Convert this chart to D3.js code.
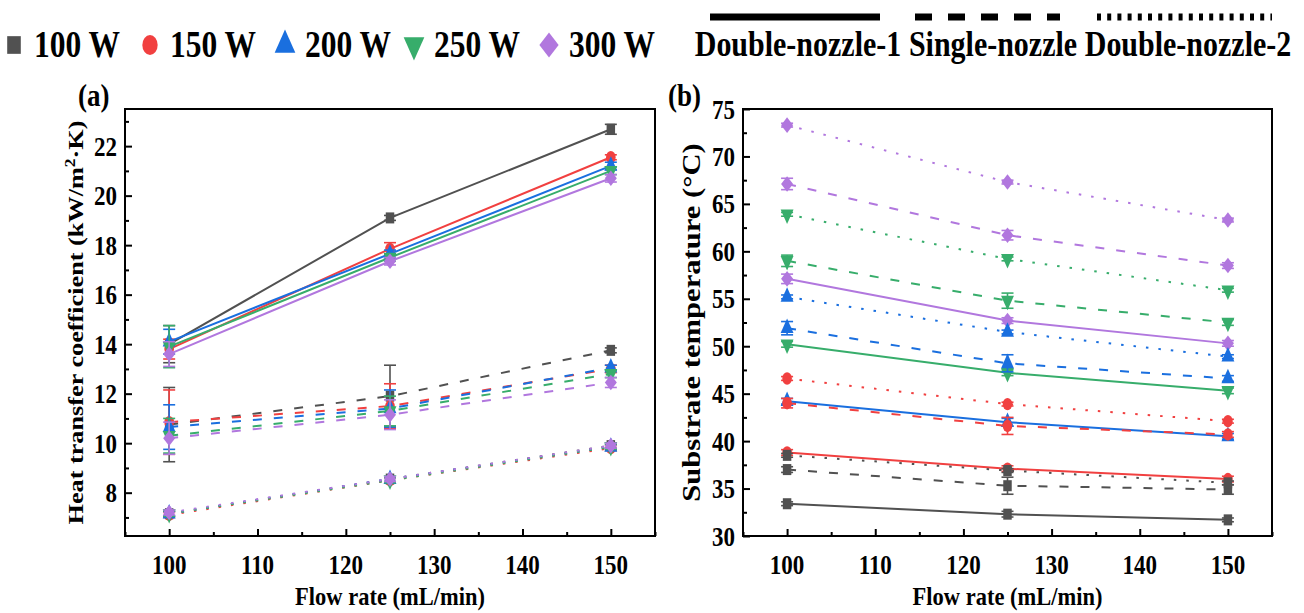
<!DOCTYPE html>
<html>
<head>
<meta charset="utf-8">
<script src="https://cdnjs.cloudflare.com/ajax/libs/d3/7.8.5/d3.min.js"></script>
<style>
  body { margin: 0; background: #fff; }
</style>
</head>
<body>
<div id="chart"></div>
<script>
////////////////////////////////// DATA //////////////////////////////////
var flowRates = [100, 125, 150];
var powers = ["100 W", "150 W", "200 W", "250 W", "300 W"];
var nozzles = ["Double-nozzle-1", "Single-nozzle", "Double-nozzle-2"];
var xTicks = [100, 110, 120, 130, 140, 150];
var htcTicks = [8, 10, 12, 14, 16, 18, 20, 22];
var tempTicks = [30, 35, 40, 45, 50, 55, 60, 65, 70, 75];

// (a) heat transfer coefficient, one row per power
var htcDouble1 = [[14.0, 19.1, 22.68], [13.8, 17.85, 21.55], [14.1, 17.65, 21.2], [13.9, 17.5, 21.0], [13.6, 17.35, 20.7]];
var htcDouble1Err = [[0.75, 0.1, 0.2], [0.4, 0.25, 0.1], [0.5, 0.15, 0.15], [0.85, 0.15, 0.15], [0.5, 0.15, 0.15]];
var htcSingle = [[10.75, 11.9, 13.75], [10.85, 11.5, 13.0], [10.65, 11.4, 13.05], [10.3, 11.3, 12.8], [10.2, 11.15, 12.45]];
var htcSingleErr = [[1.5, 1.25, 0.1], [1.3, 0.9, 0.15], [0.9, 0.75, 0.1], [0.7, 0.6, 0.15], [0.65, 0.6, 0.2]];
var htcDouble2 = [[7.15, 8.55, 9.9], [7.1, 8.5, 9.8], [7.15, 8.55, 9.85], [7.15, 8.5, 9.85], [7.2, 8.55, 9.9]];
var htcDouble2Err = [[0.1, 0.1, 0.1], [0.1, 0.1, 0.1], [0.1, 0.1, 0.1], [0.1, 0.1, 0.1], [0.1, 0.1, 0.1]];

// (b) substrate temperature, one row per power
var tDouble1 = [[33.4, 32.3, 31.7], [38.8, 37.1, 36.0], [44.2, 42.0, 40.5], [50.2, 47.2, 45.3], [57.1, 52.7, 50.3]];
var tDouble1Err = [[0.2, 0.3, 0.2], [0.3, 0.3, 0.3], [0.3, 0.4, 0.3], [0.3, 0.3, 0.3], [0.5, 0.3, 0.3]];
var tSingle = [[37.0, 35.3, 34.9], [44.0, 41.6, 40.7], [51.9, 48.2, 46.6], [59.0, 54.8, 52.5], [67.1, 61.7, 58.5]];
var tSingleErr = [[0.3, 0.9, 0.5], [0.5, 0.9, 0.3], [0.7, 0.9, 0.3], [0.6, 0.8, 0.3], [0.6, 0.5, 0.3]];
var tDouble2 = [[38.5, 36.9, 35.6], [46.6, 43.9, 42.1], [55.2, 51.5, 48.9], [63.9, 59.2, 55.9], [73.3, 67.3, 63.3]];
var tDouble2Err = [[0.2, 0.2, 0.2], [0.2, 0.2, 0.2], [0.2, 0.2, 0.2], [0.2, 0.2, 0.2], [0.2, 0.2, 0.2]];

////////////////////////////////// D3 //////////////////////////////////
var width = 1304;
var height = 613;
var stretch = 1.22;   // the original figure is a bit taller than wide

var color = d3.scaleOrdinal(powers, ["#515151", "#F14040", "#1A6FDF", "#37AD6B", "#B177DE"]);
var dashes = d3.scaleOrdinal(nozzles, ["none", "9,12", "2.5,10"]);

// marker shapes, origin style
function marker(i, s) {
  var gen = d3.symbol().size(s);
  if (i == 0) return gen.type(d3.symbolSquare)();
  if (i == 1) return gen.type(d3.symbolCircle)();
  return gen.type(i == 4 ? d3.symbolSquare : d3.symbolTriangle)();
}
function markerRotate(i) {
  if (i == 3) return " rotate(180)";
  if (i == 4) return " rotate(45)";
  return "";
}

var svg = d3.select('#chart')
  .append('svg')
  .attr('width', width)
  .attr('height', height)
  .attr('font-family', '"Times New Roman", "Liberation Serif", Times, serif')
  .attr('font-weight', 'bold');

// text helper: tall text like the original
function label(sel, x, y, size, k, anchor, rotated) {
  return sel.append('text')
    .attr('transform', 'translate(' + x + ',' + y + ')' + (rotated ? ' rotate(-90) scale(' + k + ',1)' : ' scale(1,' + k + ')'))
    .attr('text-anchor', anchor)
    .attr('font-size', size);
}

function panel(opts) {
  var x = d3.scaleLinear().domain([95, 155]).range([opts.left, opts.right]);
  var y = d3.scaleLinear().domain(opts.yDomain).range([536, 109]);
  var g = svg.append('g');

  // frame
  g.append('rect')
    .attr('x', opts.left).attr('y', 109)
    .attr('width', opts.right - opts.left).attr('height', 536 - 109)
    .attr('fill', 'none').attr('stroke', '#000').attr('stroke-width', 2);

  // x axis, ticks pointing inward
  var xMinor = d3.range(95, 156, 5).filter(function(v) { return v % 10 != 0; });
  g.append('g')
    .attr('transform', 'translate(0,536)')
    .call(d3.axisTop(x).tickValues(xTicks).tickSize(7).tickFormat(''))
    .call(function(a) { a.select('.domain').remove(); a.selectAll('line').attr('stroke-width', 2); });
  g.append('g')
    .attr('transform', 'translate(0,536)')
    .call(d3.axisTop(x).tickValues(xMinor).tickSize(4).tickFormat(''))
    .call(function(a) { a.select('.domain').remove(); a.selectAll('line').attr('stroke-width', 2); });
  xTicks.forEach(function(d) {
    label(g, x(d), 574, 23, stretch, 'middle').text(d);
  });

  // y axis
  var yt = opts.yTicks;
  var step = yt[1] - yt[0];
  var yMinor = [];
  for (var v = yt[0] - step / 2; v <= opts.yDomain[1]; v += step) {
    if (v >= opts.yDomain[0] && yt.indexOf(v) < 0) yMinor.push(v);
  }
  g.append('g')
    .attr('transform', 'translate(' + opts.left + ',0)')
    .call(d3.axisRight(y).tickValues(yt).tickSize(7).tickFormat(''))
    .call(function(a) { a.select('.domain').remove(); a.selectAll('line').attr('stroke-width', 2); });
  g.append('g')
    .attr('transform', 'translate(' + opts.left + ',0)')
    .call(d3.axisRight(y).tickValues(yMinor).tickSize(4).tickFormat(''))
    .call(function(a) { a.select('.domain').remove(); a.selectAll('line').attr('stroke-width', 2); });
  yt.forEach(function(d) {
    label(g, opts.left - 8, y(d) + 9.5, 23, stretch, 'end').text(d);
  });

  // titles
  label(g, (opts.left + opts.right) / 2, 605, 22.5, 1.15, 'middle').text('Flow rate (mL/min)');
  label(g, opts.titleX, (109 + 536) / 2, opts.titleSize, 1.25, 'middle', true).html(opts.title);
  label(g, opts.tagX, 106, 27, 1.15, 'start').text(opts.tag);

  // series
  var line = d3.line()
    .x(function(d, i) { return x(flowRates[i]); })
    .y(function(d) { return y(d); });

  opts.series.forEach(function(s, k) {
    s.values.forEach(function(row, i) {
      var c = color(powers[i]);
      g.append('path')
        .attr('d', line(row))
        .attr('fill', 'none')
        .attr('stroke', c)
        .attr('stroke-width', 2)
        .attr('stroke-dasharray', dashes(nozzles[k]));
      var pts = g.selectAll(null)
        .data(row.map(function(v, j) { return { v: v, e: s.errors[i][j], f: flowRates[j] }; }))
        .enter()
        .append('g')
        .attr('stroke', c)
        .attr('stroke-width', 1.6);
      pts.append('line')
        .attr('x1', function(d) { return x(d.f); }).attr('x2', function(d) { return x(d.f); })
        .attr('y1', function(d) { return y(d.v - d.e); }).attr('y2', function(d) { return y(d.v + d.e); });
      pts.append('line')
        .attr('x1', function(d) { return x(d.f) - 6; }).attr('x2', function(d) { return x(d.f) + 6; })
        .attr('y1', function(d) { return y(d.v + d.e); }).attr('y2', function(d) { return y(d.v + d.e); });
      pts.append('line')
        .attr('x1', function(d) { return x(d.f) - 6; }).attr('x2', function(d) { return x(d.f) + 6; })
        .attr('y1', function(d) { return y(d.v - d.e); }).attr('y2', function(d) { return y(d.v - d.e); });
      pts.append('path')
        .attr('d', marker(i, 72))
        .attr('transform', function(d) { return 'translate(' + x(d.f) + ',' + y(d.v) + ') scale(1,1.3)' + markerRotate(i); })
        .attr('fill', c)
        .attr('stroke', 'none');
    });
  });
}

panel({
  left: 125, right: 655, yDomain: [6.25, 23.5], yTicks: htcTicks,
  titleX: 83, titleSize: 21, tagX: 78, tag: '(a)',
  title: 'Heat transfer coefficient (kW/m<tspan dy="-8" font-size="14">2</tspan><tspan dy="8">·K)</tspan>',
  series: [
    { values: htcDouble1, errors: htcDouble1Err },
    { values: htcSingle, errors: htcSingleErr },
    { values: htcDouble2, errors: htcDouble2Err }
  ]
});

panel({
  left: 743, right: 1272, yDomain: [30, 75], yTicks: tempTicks,
  titleX: 700, titleSize: 24.5, tagX: 668, tag: '(b)',
  title: 'Substrate temperature (°C)',
  series: [
    { values: tDouble1, errors: tDouble1Err },
    { values: tSingle, errors: tSingleErr },
    { values: tDouble2, errors: tDouble2Err }
  ]
});

////////////// Legends
var legX = [14, 150, 285, 414, 549];
var leg = svg.selectAll('.leg')
  .data(powers)
  .enter()
  .append('g')
  .attr('transform', function(d, i) { return 'translate(' + legX[i] + ',45)'; });
leg.append('path')
  .attr('d', function(d, i) { return marker(i, 185); })
  .attr('transform', function(d, i) { return 'scale(1,1.3)' + markerRotate(i); })
  .attr('fill', function(d) { return color(d); });
leg.each(function(d, i) {
  label(d3.select(this), 20, 12, 31.5, 1.2, 'start').text(d);
});

var nozX = [[710, 880], [915, 1060], [1097, 1272]];
var nozLabelX = [798, 993, 1188];
var noz = svg.selectAll('.noz')
  .data(nozzles)
  .enter()
  .append('g');
noz.append('line')
  .attr('x1', function(d, i) { return nozX[i][0]; })
  .attr('x2', function(d, i) { return nozX[i][1]; })
  .attr('y1', 17).attr('y2', 17)
  .attr('stroke', '#000')
  .attr('stroke-width', 7)
  .attr('stroke-dasharray', function(d, i) { return ["none", "17,16", "4,6.2"][i]; });
noz.each(function(d, i) {
  label(d3.select(this), nozLabelX[i], 56, 30, 1.18, 'middle').text(d);
});
////////////////////////////////// D3 - END //////////////////////////////////
</script>
</body>
</html>
